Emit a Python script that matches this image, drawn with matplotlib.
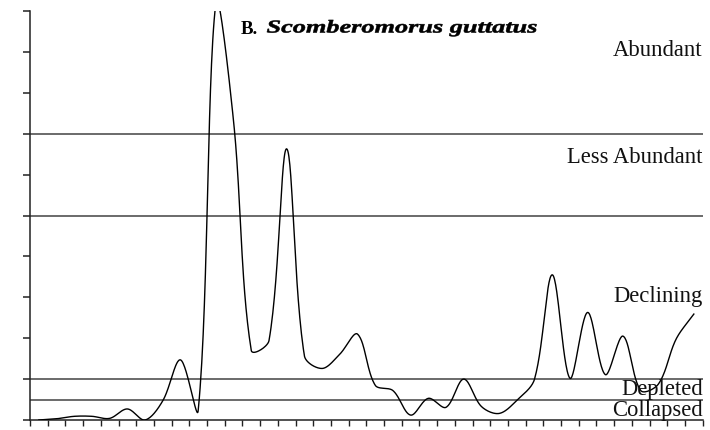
import numpy as np
import matplotlib
matplotlib.use('Agg')
import matplotlib.pyplot as plt
from matplotlib import patheffects
from matplotlib.transforms import Affine2D

plt.rcParams['font.family'] = 'serif'
plt.rcParams['font.serif'] = ['Liberation Serif', 'DejaVu Serif']

# yearly catch index, one value per year (38 years), plotted mid-category
catch_index = [0.0, 0.03, 0.09, 0.09, 0.04, 0.27, 0.0, 0.47, 1.47, 0.23,
               10.2, 7.3, 1.7, 1.94, 6.63, 1.57, 1.26, 1.61, 2.1, 0.85,
               0.72, 0.12, 0.53, 0.31, 1.0, 0.33, 0.16, 0.48, 1.0, 3.55,
               1.02, 2.63, 1.11, 2.05, 0.72, 0.88, 1.98, 2.59]
n_years = len(catch_index)

# stock status boundaries and their labels (label, baseline height)
thresholds = [0.5, 1.0, 5.0, 7.0]
status_labels = ['Abundant', 'Less Abundant', 'Declining', 'Depleted', 'Collapsed']
label_y = [8.92, 6.31, 2.91, 0.64, 0.12]

species = 'Scomberomorus guttatus'
panel = 'B.'


def smooth_line(ax, xs, ys, n=30):
    # Bezier through every point; control arms weighted by the on-screen
    # length of the neighbouring segments, like a spreadsheet "smoothed line"
    p = ax.transData.transform(np.column_stack([xs, ys]))
    ext = np.vstack([p[0], p, p[-1]])
    c_in, c_out = [], []
    for i in range(len(p)):
        prev, cur, nxt = ext[i], ext[i + 1], ext[i + 2]
        d_in = np.hypot(*(cur - prev))
        d_out = np.hypot(*(nxt - cur))
        tot = d_in + d_out
        tang = nxt - prev
        if tot == 0:
            c_in.append(cur)
            c_out.append(cur)
            continue
        c_in.append(cur - tang * d_in / tot / 3)
        c_out.append(cur + tang * d_out / tot / 3)
    t = np.linspace(0, 1, n, endpoint=False)[:, None]
    out = []
    for i in range(len(p) - 1):
        p1, p2 = p[i], p[i + 1]
        a, b = c_out[i], c_in[i + 1]
        out.append((1 - t) ** 3 * p1 + 3 * (1 - t) ** 2 * t * a
                   + 3 * (1 - t) * t ** 2 * b + t ** 3 * p2)
    out.append(p[-1:])
    return ax.transData.inverted().transform(np.vstack(out))


class StretchX(patheffects.AbstractPathEffect):
    """Widen glyphs horizontally about a fixed display x, with a thin outline."""
    def __init__(self, sx, x0, lw=0.0):
        super().__init__()
        self.sx = sx
        self.x0 = x0
        self.lw = lw

    def draw_path(self, renderer, gc, tpath, affine, rgbFace=None):
        t = affine + Affine2D().translate(-self.x0, 0).scale(self.sx, 1).translate(self.x0, 0)
        gc0 = renderer.new_gc()
        gc0.copy_properties(gc)
        gc0.set_linewidth(self.lw)
        gc0.set_foreground(rgbFace)
        renderer.draw_path(gc0, tpath, t, rgbFace)
        gc0.restore()


W, H = 710, 431
fig = plt.figure(figsize=(W / 100, H / 100), dpi=100)
ax = fig.add_axes([30 / W, 10 / H, 672.7 / W, 409 / H])
ax.set_xlim(0, n_years)
ax.set_ylim(0, 10)

for th in thresholds:
    ax.axhline(th, color='#6a6a6a', lw=1.4, zorder=1)

xs = np.arange(n_years) + 0.5
curve = smooth_line(ax, xs, catch_index)
ax.plot(curve[:, 0], curve[:, 1], color='black', lw=1.0, zorder=3)

ax.set_xticks(np.arange(n_years + 1))
ax.set_yticks(np.arange(11))
ax.set_xticklabels([])
ax.set_yticklabels([])
ax.tick_params(axis='x', direction='out', length=4.5, width=1.0, color='#222222')
ax.tick_params(axis='y', direction='out', length=5, width=1.1, color='#222222')
for side in ['top', 'right']:
    ax.spines[side].set_visible(False)
for side in ['left', 'bottom']:
    ax.spines[side].set_color('#222222')
    ax.spines[side].set_linewidth(1.1)

for lab, yy in zip(status_labels, label_y):
    ax.text(n_years, yy, lab, ha='right', va='baseline', fontsize=16.3,
            color='#111111', zorder=4)

# panel title: bold letter, then the species name in wide bold italic
title_base = (H - 33.5) / H
fig.text(241 / W, title_base, panel, fontsize=13.5, fontweight='bold',
         ha='left', va='baseline')
sp = fig.text(266.5 / W, title_base, species, fontsize=13, fontweight='bold',
              style='italic', ha='left', va='baseline')
fig.canvas.draw()
sp_width = sp.get_window_extent().width
x0 = fig.transFigure.transform((266.5 / W, 0))[0]
sp.set_path_effects([StretchX(270 / sp_width, x0, lw=0.4)])

fig.savefig('out.png', dpi=100)
